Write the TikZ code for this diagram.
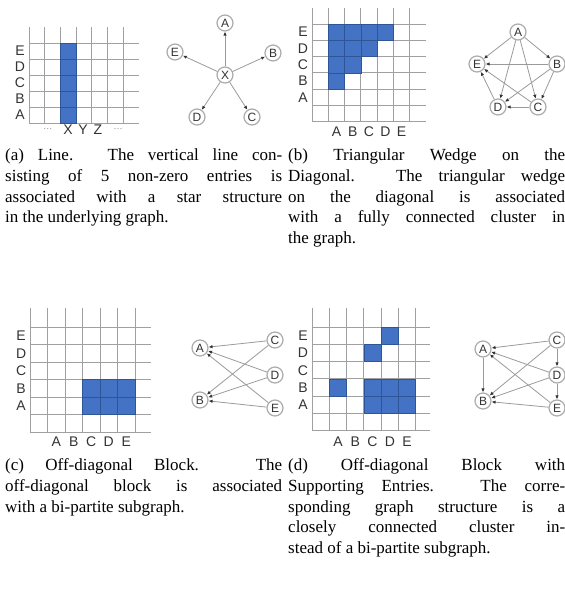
\documentclass[tikz,border=0pt]{standalone}
\usepackage{fontspec}
\setmainfont{Liberation Serif}
\newfontfamily\labfont{Liberation Sans}
\usetikzlibrary{arrows.meta}
\definecolor{cellblue}{HTML}{4472C4}
\definecolor{celledge}{HTML}{2E5596}
\definecolor{gridgray}{HTML}{A0A0A0}
\definecolor{nodegray}{HTML}{ABABAB}
\definecolor{edgegray}{HTML}{9A9A9A}
\definecolor{txtgray}{HTML}{333333}
\tikzset{
  gridline/.style={gridgray, line width=1pt},
  bluecell/.style={fill=cellblue, draw=celledge, line width=0.8pt},
  axlab/.style={font=\labfont\fontsize{14}{14}\selectfont, text=txtgray, inner sep=0pt},
  dotlab/.style={font=\labfont\fontsize{9}{9}\selectfont, text=gray, inner sep=0pt},
  gnode/.style={circle, draw=nodegray, line width=1.2pt, fill=white, minimum size=16pt,
    inner sep=0pt, font=\labfont\fontsize{12}{12}\selectfont, text=txtgray},
  gedge/.style={edgegray, line width=0.8pt, -{Latex[length=4pt,width=3.5pt,color=black!80]}},
  capline/.style={anchor=base west, inner sep=0pt, font=\fontsize{17}{21}\selectfont},
}
\newcommand\jline[4]{\node[capline] (#1) at (#2,#3) {\makebox[277pt][s]{#4}};}
\newcommand\nline[4]{\node[capline] (#1) at (#2,#3) {#4};}
\begin{document}
\begin{tikzpicture}[x=1pt,y=-1pt]
\useasboundingbox (0,0) rectangle (565,592);
% ---------------- (a) grid
\begin{scope}[shift={(29,43)}, x=15.7pt, y=-16pt]
  \foreach \i in {0,...,6} \draw[gridline] (\i,-1) -- (\i,5);
  \foreach \j in {0,...,5} \draw[gridline] (0,\j) -- (7,\j);
  \foreach \j in {0,...,4} \draw[bluecell] (2,\j) rectangle (3,\j+1);
  \node[axlab] (aE) at (-0.57,0.5) {E};
  \node[axlab] (aD) at (-0.57,1.5) {D};
  \node[axlab] (aC) at (-0.57,2.5) {C};
  \node[axlab] (aB) at (-0.57,3.5) {B};
  \node[axlab] (aA) at (-0.57,4.5) {A};
  \node[dotlab] (ad1) at (1.2,5.44) {\textperiodcentered\textperiodcentered\textperiodcentered};
  \node[axlab] (aX) at (2.48,5.44) {X};
  \node[axlab] (aY) at (3.44,5.44) {Y};
  \node[axlab] (aZ) at (4.39,5.44) {Z};
  \node[dotlab] (ad2) at (5.67,5.44) {\textperiodcentered\textperiodcentered\textperiodcentered};
\end{scope}
% ---------------- (a) graph
\node[gnode] (gaX) at (225,75) {X};
\node[gnode] (gaA) at (225,23) {A};
\node[gnode] (gaE) at (175,52) {E};
\node[gnode] (gaB) at (273,53) {B};
\node[gnode] (gaD) at (197,117) {D};
\node[gnode] (gaC) at (252,117) {C};
\foreach \t in {gaA,gaB,gaC,gaD,gaE} \draw[gedge] (gaX) -- (\t);
% ---------------- (b) grid
\begin{scope}[shift={(312,24)}, x=16.3pt, y=-16.3pt]
  \foreach \i in {0,...,6} \draw[gridline] (\i,-1) -- (\i,6);
  \foreach \j in {0,...,6} \draw[gridline] (0,\j) -- (7,\j);
  \foreach \c in {1,...,4} \draw[bluecell] (\c,0) rectangle (\c+1,1);
  \foreach \c in {1,...,3} \draw[bluecell] (\c,1) rectangle (\c+1,2);
  \foreach \c in {1,2} \draw[bluecell] (\c,2) rectangle (\c+1,3);
  \draw[bluecell] (1,3) rectangle (2,4);
  \node[axlab] (bE) at (-0.55,0.5) {E};
  \node[axlab] (bD) at (-0.55,1.5) {D};
  \node[axlab] (bC) at (-0.55,2.5) {C};
  \node[axlab] (bB) at (-0.55,3.5) {B};
  \node[axlab] (bA) at (-0.55,4.5) {A};
  \node[axlab] (bcA) at (1.5,6.63) {A};
  \node[axlab] (bcB) at (2.5,6.63) {B};
  \node[axlab] (bcC) at (3.5,6.63) {C};
  \node[axlab] (bcD) at (4.5,6.63) {D};
  \node[axlab] (bcE) at (5.5,6.63) {E};
\end{scope}
% ---------------- (b) graph
\node[gnode] (gbA) at (518,32) {A};
\node[gnode] (gbE) at (477,64) {E};
\node[gnode] (gbB) at (557,64) {B};
\node[gnode] (gbD) at (498,107) {D};
\node[gnode] (gbC) at (538,107) {C};
\foreach \s/\t in {gbA/gbE,gbA/gbB,gbA/gbD,gbA/gbC,gbB/gbE,gbB/gbD,gbB/gbC,gbC/gbD,gbC/gbE,gbD/gbE}
  \draw[gedge] (\s) -- (\t);
% ---------------- (c) grid
\begin{scope}[shift={(30,327)}, x=17.5pt, y=-17.5pt]
  \foreach \i in {0,...,6} \draw[gridline] (\i,-1.1) -- (\i,6);
  \foreach \j in {0,...,6} \draw[gridline] (0,\j) -- (6.9,\j);
  \foreach \r in {3,4} \foreach \c in {3,4,5} \draw[bluecell] (\c,\r) rectangle (\c+1,\r+1);
  \node[axlab] (cE) at (-0.51,0.5) {E};
  \node[axlab] (cD) at (-0.51,1.5) {D};
  \node[axlab] (cC) at (-0.51,2.5) {C};
  \node[axlab] (cB) at (-0.51,3.5) {B};
  \node[axlab] (cA) at (-0.51,4.5) {A};
  \node[axlab] (ccA) at (1.5,6.57) {A};
  \node[axlab] (ccB) at (2.5,6.57) {B};
  \node[axlab] (ccC) at (3.5,6.57) {C};
  \node[axlab] (ccD) at (4.5,6.57) {D};
  \node[axlab] (ccE) at (5.5,6.57) {E};
\end{scope}
% ---------------- (c) graph
\node[gnode] (gcA) at (200,348) {A};
\node[gnode] (gcB) at (200,400) {B};
\node[gnode] (gcC) at (275,340) {C};
\node[gnode] (gcD) at (275,375) {D};
\node[gnode] (gcE) at (275,408) {E};
\foreach \s in {gcC,gcD,gcE} \foreach \t in {gcA,gcB} \draw[gedge] (\s) -- (\t);
% ---------------- (d) grid
\begin{scope}[shift={(312,327)}, x=17.3pt, y=-17.3pt]
  \foreach \i in {0,...,6} \draw[gridline] (\i,-1.1) -- (\i,6);
  \foreach \j in {0,...,6} \draw[gridline] (0,\j) -- (6.8,\j);
  \draw[bluecell] (4,0) rectangle (5,1);
  \draw[bluecell] (3,1) rectangle (4,2);
  \draw[bluecell] (1,3) rectangle (2,4);
  \foreach \r in {3,4} \foreach \c in {3,4,5} \draw[bluecell] (\c,\r) rectangle (\c+1,\r+1);
  \node[axlab] (dE) at (-0.52,0.5) {E};
  \node[axlab] (dD) at (-0.52,1.5) {D};
  \node[axlab] (dC) at (-0.52,2.5) {C};
  \node[axlab] (dB) at (-0.52,3.5) {B};
  \node[axlab] (dA) at (-0.52,4.5) {A};
  \node[axlab] (dcA) at (1.5,6.65) {A};
  \node[axlab] (dcB) at (2.5,6.65) {B};
  \node[axlab] (dcC) at (3.5,6.65) {C};
  \node[axlab] (dcD) at (4.5,6.65) {D};
  \node[axlab] (dcE) at (5.5,6.65) {E};
\end{scope}
% ---------------- (d) graph
\node[gnode] (gdA) at (483,349) {A};
\node[gnode] (gdB) at (483,401) {B};
\node[gnode] (gdC) at (557,340) {C};
\node[gnode] (gdD) at (557,375) {D};
\node[gnode] (gdE) at (557,408) {E};
\foreach \s in {gdC,gdD,gdE} \foreach \t in {gdA,gdB} \draw[gedge] (\s) -- (\t);
\draw[gedge] (gdA) -- (gdB);
\draw[gedge] (gdC) -- (gdD);
\draw[gedge] (gdD) -- (gdE);
% ---------------- captions
\jline{ta1}{5}{160.5}{(a) Line. The vertical line con-}
\jline{ta2}{5}{181.2}{sisting of 5 non-zero entries is}
\jline{ta3}{5}{202}{associated with a star structure}
\nline{ta4}{5}{222.7}{in the underlying graph.}
\jline{tb1}{288}{160.5}{(b) Triangular Wedge on the}
\jline{tb2}{288}{181.2}{Diagonal. The triangular wedge}
\jline{tb3}{288}{202}{on the diagonal is associated}
\jline{tb4}{288}{222.7}{with a fully connected cluster in}
\nline{tb5}{288}{243.5}{the graph.}
\jline{tc1}{5}{470.5}{(c) Off-diagonal Block. The}
\jline{tc2}{5}{491.2}{off-diagonal block is associated}
\nline{tc3}{5}{512}{with a bi-partite subgraph.}
\jline{td1}{288}{470.5}{(d) Off-diagonal Block with}
\jline{td2}{288}{491.2}{Supporting Entries. The corre-}
\jline{td3}{288}{512}{sponding graph structure is a}
\jline{td4}{288}{532.7}{closely connected cluster in-}
\nline{td5}{288}{553.5}{stead of a bi-partite subgraph.}
\end{tikzpicture}
\end{document}
